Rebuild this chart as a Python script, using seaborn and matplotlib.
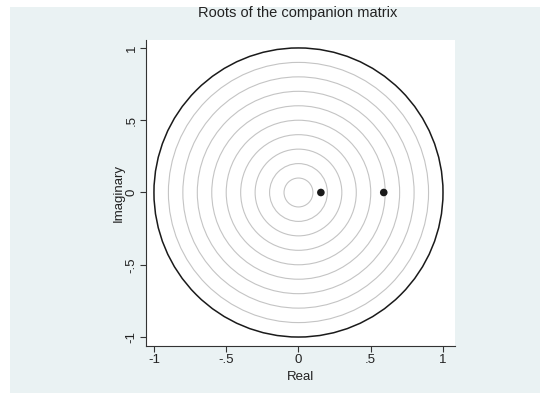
import numpy as np
import pandas as pd
import seaborn as sns
import matplotlib.pyplot as plt
from matplotlib.patches import Circle, Rectangle

# roots of the companion matrix
root_real = [0.155, 0.59]
root_imag = [0.0, 0.0]

grid_radii = [0.1, 0.2, 0.3, 0.4, 0.5, 0.6, 0.7, 0.8, 0.9]
unit_radius = 1.0

tick_values = [-1, -0.5, 0, 0.5, 1]
tick_labels = ["-1", "-.5", "0", ".5", "1"]

sns.set_style("white")
plt.rcParams['font.family'] = ['Liberation Sans', 'DejaVu Sans']

fig = plt.figure(figsize=(5.4, 3.93), dpi=100)
fig.patch.set_facecolor("#eaf2f3")
# thin white margins on the left and top edges
fig.patches.append(Rectangle((0, 0), 10 / 540, 1, transform=fig.transFigure,
                             facecolor="white", edgecolor="none", zorder=-10))
fig.patches.append(Rectangle((0, 1 - 7 / 393), 1, 7 / 393, transform=fig.transFigure,
                             facecolor="white", edgecolor="none", zorder=-10))

ax = fig.add_axes([146 / 540, 1 - 346 / 393, (455 - 146) / 540, (346 - 40) / 393])
ax.set_facecolor("white")

for r in grid_radii:
    ax.add_patch(Circle((0, 0), r, fill=False, edgecolor="#c4c4c4", linewidth=0.8, zorder=1))
ax.add_patch(Circle((0, 0), unit_radius, fill=False, edgecolor="#1a1a1a", linewidth=1.1, zorder=2))

roots = pd.DataFrame({"Real": root_real, "Imaginary": root_imag})
sns.scatterplot(data=roots, x="Real", y="Imaginary", ax=ax, color="#1a1a1a",
                s=30, edgecolor="none", zorder=3)

ax.set_xlim(-1.055, 1.083)
ax.set_ylim(-1.062, 1.055)

ax.set_xticks(tick_values)
ax.set_xticklabels(tick_labels)
ax.set_yticks(tick_values)
ax.set_yticklabels(tick_labels, rotation=90, va="center")
ax.tick_params(axis="both", direction="out", length=4, width=0.8, color="#333333",
               labelsize=9.5, labelcolor="#222222", pad=2, left=True, bottom=True)

for side in ["top", "right"]:
    ax.spines[side].set_visible(False)
for side in ["left", "bottom"]:
    ax.spines[side].set_color("#333333")
    ax.spines[side].set_linewidth(0.8)

ax.set_xlabel("Real", fontsize=9.5, color="#222222", labelpad=3)
ax.set_ylabel("Imaginary", fontsize=9.5, color="#222222", labelpad=1)
fig.text(298 / 540, 1 - 13 / 393, "Roots of the companion matrix", ha="center", va="center",
         fontsize=10.5, color="#222222")

fig.savefig("out.png", dpi=100, facecolor=fig.get_facecolor())
